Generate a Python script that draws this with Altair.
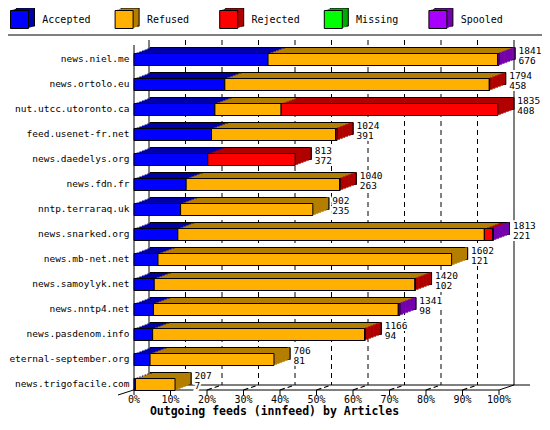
import altair as alt
import pandas as pd

# ---------------- data ----------------
servers = ["news.niel.me", "news.ortolo.eu", "nut.utcc.utoronto.ca", "feed.usenet-fr.net",
           "news.daedelys.org", "news.fdn.fr", "nntp.terraraq.uk", "news.snarked.org",
           "news.mb-net.net", "news.samoylyk.net", "news.nntp4.net", "news.pasdenom.info",
           "eternal-september.org", "news.trigofacile.com"]
accepted = [676, 458, 408, 391, 372, 263, 235, 221, 121, 102, 98, 94, 81, 7]
refused = [1158, 1334, 334, 626, 0, 774, 667, 1546, 1481, 1315, 1235, 1069, 625, 200]
rejected = [0, 2, 1093, 7, 441, 3, 0, 42, 0, 3, 0, 3, 0, 0]
missing = [0, 0, 0, 0, 0, 0, 0, 0, 0, 0, 0, 0, 0, 0]
spooled = [7, 0, 0, 0, 0, 0, 0, 4, 0, 0, 8, 0, 0, 0]

categories = ["Accepted", "Refused", "Rejected", "Missing", "Spooled"]
front_colors = ["#0000FF", "#FFB000", "#FF0000", "#00FF00", "#A800FF"]
dark_colors = ["#0000A8", "#B47E00", "#B00000", "#00A800", "#7400B0"]
pct_ticks = [0, 10, 20, 30, 40, 50, 60, 70, 80, 90, 100]
x_title = "Outgoing feeds (innfeed) by Articles"

FONT = "DejaVu Sans Mono"

series = [accepted, refused, rejected, missing, spooled]
totals = [sum(v) for v in zip(*series)]
max_total = max(totals)

rows = []
last_cat = []
for i, s in enumerate(servers):
    start = 0
    last = None
    for c, vals in zip(categories, series):
        v = vals[i]
        if v > 0:
            rows.append(dict(server=s, category=c,
                             x0=start / max_total * 100,
                             x1=(start + v) / max_total * 100))
            last = c
        start += v
    last_cat.append(last)
seg = pd.DataFrame(rows)
lab = pd.DataFrame(dict(server=servers, total=[str(t) for t in totals],
                        acc=[str(a) for a in accepted],
                        pct=[t / max_total * 100 for t in totals],
                        category=last_cat))
ticks_df = pd.DataFrame(dict(pct=pct_ticks, label=[f"{p}%" for p in pct_ticks]))
grid_df = ticks_df[(ticks_df.pct > 0) & (ticks_df.pct < 100)]
one = pd.DataFrame({"a": [0]})

W, H = 365, 350
xscale = alt.Scale(domain=[0, 100], nice=False, zero=True)
yscale = alt.Scale(domain=servers, paddingInner=0, paddingOuter=0)
X0 = alt.X("x0:Q", scale=xscale, axis=None)
X2 = alt.X2("x1:Q")
XP = alt.X("pct:Q", scale=xscale, axis=None)
Y = alt.Y("server:N", scale=yscale, axis=None, sort=servers)

DX, DY, NSTEP = 16.0, 6, 6
STEP = DX / NSTEP

layers = []


def rule(x, x2, y, y2, **kw):
    return alt.Chart(one).mark_rule(color="black", strokeWidth=1, **kw).encode(
        x=alt.value(x), x2=alt.value(x2), y=alt.value(y), y2=alt.value(y2))


def dark_color():
    return alt.Color("category:N", scale=alt.Scale(domain=categories, range=dark_colors), legend=None)


# legend separator
layers.append(rule(-126, 408, -5, -5))

# legend cubes
for i, c in enumerate(categories):
    cx = -114.5 + i * 104.6
    d = pd.DataFrame({"category": [c]})
    for k in [3, 2, 1]:
        kw = dict(stroke="black", strokeWidth=1) if k == 3 else {}
        layers.append(alt.Chart(d).mark_square(size=324, color=dark_colors[i], opacity=1,
                                               filled=True, xOffset=2 * k, yOffset=-0.8 * k, **kw)
                      .encode(x=alt.value(cx), y=alt.value(-20.5)))
    layers.append(alt.Chart(d).mark_square(size=324, color=front_colors[i], opacity=1, filled=True,
                                           stroke="black", strokeWidth=1)
                  .encode(x=alt.value(cx), y=alt.value(-20.5)))
    layers.append(alt.Chart(d).mark_text(align="left", baseline="middle", font=FONT, fontSize=10,
                                         color="black", dx=22.8)
                  .encode(x=alt.value(cx), y=alt.value(-20), text="category:N"))

# back wall
layers.append(rule(15, 15, 0, 345))
layers.append(rule(W + 15, W + 15, 0, 345))
layers.append(alt.Chart(grid_df).mark_rule(color="black", strokeWidth=1, strokeDash=[5, 4], xOffset=15)
              .encode(x=XP, y=alt.value(0), y2=alt.value(345)))
# floor
layers.append(rule(15, W + 31, 345, 345))
layers.append(rule(W, W + 15, 350, 345))
layers.append(rule(-16, 15, 355, 345))
layers.append(rule(0, W, 350, 350))
layers.append(rule(0, 0, 5, 355))
layers.append(alt.Chart(ticks_df[ticks_df.pct > 0]).mark_rule(color="black", strokeWidth=1)
              .encode(x=XP, y=alt.value(350), y2=alt.value(355)))
layers.append(alt.Chart(grid_df).mark_rule(color="black", strokeWidth=1.2, strokeDash=[5, 3],
                                           x2Offset=12)
              .encode(x=XP, x2=alt.X2("pct:Q"), y=alt.value(350), y2=alt.value(346)))

# bars: top face as stacked copies (back to front)
for k in range(NSTEP, 0, -1):
    off = k * STEP
    kw = dict(stroke="black", strokeWidth=1) if k == NSTEP else {}
    layers.append(alt.Chart(seg).mark_bar(size=12, xOffset=off, x2Offset=off, yOffset=7 - k * DY / NSTEP,
                                          opacity=1, **kw)
                  .encode(x=X0, x2=X2, y=Y, color=dark_color()))
# side face: one colour (last segment)
for k in range(1, NSTEP + 1):
    layers.append(alt.Chart(lab).mark_bar(size=12, xOffset=(k - 1) * STEP, x2Offset=k * STEP + 0.3,
                                          yOffset=7 - k * DY / NSTEP, opacity=1)
                  .encode(x=XP, x2=alt.X2("pct:Q"), y=Y, color=dark_color()))
layers.append(alt.Chart(lab).mark_tick(orient="vertical", size=12, thickness=1, color="black",
                                       opacity=1, xOffset=DX, yOffset=7 - DY)
              .encode(x=XP, y=Y))
# front face
layers.append(alt.Chart(seg).mark_bar(size=12, yOffset=7, stroke="black", strokeWidth=1, opacity=1)
              .encode(x=X0, x2=X2, y=Y,
                      color=alt.Color("category:N",
                                      scale=alt.Scale(domain=categories, range=front_colors),
                                      legend=None)))

# value labels (white halo first, so grid dashes do not run through them)
for field, dy in [("total", -2), ("acc", 8.5)]:
    layers.append(alt.Chart(lab).mark_text(align="left", baseline="middle", font=FONT, fontSize=9.5,
                                           color="white", stroke="white", strokeWidth=4,
                                           dx=19.5, dy=dy)
                  .encode(x=XP, y=Y, text=f"{field}:N"))
for field, dy in [("total", -2), ("acc", 8.5)]:
    layers.append(alt.Chart(lab).mark_text(align="left", baseline="middle", font=FONT, fontSize=9.5,
                                           color="black", dx=19.5, dy=dy)
                  .encode(x=XP, y=Y, text=f"{field}:N"))
# category labels
layers.append(alt.Chart(lab).mark_text(align="right", baseline="middle", font=FONT, fontSize=9.5,
                                       color="black", dy=6.5)
              .encode(x=alt.value(-4.5), y=Y, text="server:N"))
# tick labels
layers.append(alt.Chart(ticks_df).mark_text(align="center", baseline="middle", font=FONT, fontSize=10,
                                            color="black")
              .encode(x=XP, y=alt.value(360), text="label:N"))
# axis title
layers.append(alt.Chart(pd.DataFrame({"t": [x_title]})).mark_text(
    align="center", baseline="middle", font=FONT, fontSize=11.5, fontWeight="bold", color="black")
    .encode(x=alt.value(140.5), y=alt.value(371.5), text="t:N"))

chart = alt.layer(*layers).resolve_scale(color="independent").properties(
    width=W, height=H,
    autosize=alt.AutoSizeParams(type="none"),
    padding={"left": 126, "top": 32, "right": 534 - 126 - W, "bottom": 28},
    background="white",
).configure_view(strokeWidth=0)

chart.save("out.html", embed_options={"renderer": "svg", "actions": False})
